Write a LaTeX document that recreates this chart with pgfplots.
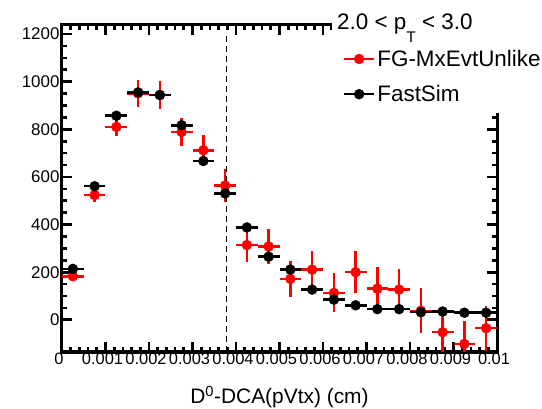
\documentclass[border=0pt]{standalone}
\usepackage{pgfplots}
\pgfplotsset{compat=1.18}
\usepackage{pgfplotstable}
\usepackage{fontspec}
\setmainfont{Liberation Sans}

% FG-MxEvtUnlike: bin centre, value, error up, error down (cut at the frame)
\pgfplotstableread{
x        y     ep   em
0.00025  183   20   20
0.00075  524   30   30
0.00125  810   39   39
0.00175  951   56   56
0.00225  944   60   60
0.00275  789   60   60
0.00325  712   65   65
0.00375  564   68   68
0.00425  314   73   73
0.00475  308   72   72
0.00525  172   74   74
0.00575  211   76   76
0.00625  113   82   82
0.00675  200   88   88
0.00725  131   91   91
0.00775  127   87   87
0.00825  38    94   94
0.00875  -52   95   83
0.00925  -101  95   34
0.00975  -35   95   95
}\fgdata

% FastSim
\pgfplotstableread{
x        y
0.00025  214
0.00075  561
0.00125  857
0.00175  955
0.00225  944
0.00275  817
0.00325  667
0.00375  531
0.00425  388
0.00475  265
0.00525  211
0.00575  127
0.00625  85
0.00675  61
0.00725  45
0.00775  45
0.00825  32
0.00875  35
0.00925  30
0.00975  30
}\fastsim

\begin{document}
\begin{tikzpicture}
\begin{axis}[
    scale only axis,
    width=435bp, height=327bp,
    xmin=0, xmax=0.01,
    ymin=-135, ymax=1238,
    clip=false,
    axis line style={line width=3bp},
    every tick/.style={black, line width=2.7bp},
    tick align=inside,
    major tick length=10bp, minor tick length=5bp,
    xtick={0,0.001,0.002,0.003,0.004,0.005,0.006,0.007,0.008,0.009,0.01},
    xticklabels={0,0.001,0.002,0.003,0.004,0.005,0.006,0.007,0.008,0.009,0.01},
    ytick={0,200,400,600,800,1000,1200},
    minor x tick num=4, minor y tick num=3,
    scaled x ticks=false,
    /pgf/number format/1000 sep={},
    /pgf/number format/assume math mode=true,
    tick label style={font=\fontsize{17}{17}\selectfont},
    xticklabel style={yshift=2bp, xshift=-3bp, font=\fontsize{16.5}{16.5}\selectfont},
    yticklabel style={xshift=1bp},
    xlabel={D\textsuperscript{0}-DCA(pVtx) (cm)},
    xlabel style={font=\fontsize{21}{21}\selectfont, yshift=-14bp},
    legend cell align=left,
    legend style={draw=none, fill=none, font=\fontsize{22.5}{22.5}\selectfont,
        at={(rel axis cs:0.6384,0.936)}, anchor=north west,
        row sep=13.5bp},
]
\addplot[red, only marks, mark=*, mark size=5bp, mark options={line width=0.4bp},
    legend image code/.code={
      \draw[red, sharp plot, line width=2.5bp, mark=*, mark size=5bp, mark repeat=2, mark phase=2]
      plot coordinates {(0bp,0bp) (15bp,0bp) (30bp,0bp)};},
    error bars/.cd, x dir=both, x fixed=0.00025, y dir=both, y explicit,
    error mark=none, error bar style={line width=2.5bp, red}]
    table[x=x, y=y, y error plus=ep, y error minus=em] {\fgdata};
\addlegendentry{FG-MxEvtUnlike}
\addplot[black, only marks, mark=*, mark size=5bp, mark options={line width=0.4bp},
    legend image code/.code={
      \draw[black, sharp plot, line width=2.5bp, mark=*, mark size=5bp, mark repeat=2, mark phase=2]
      plot coordinates {(0bp,0bp) (15bp,0bp) (30bp,0bp)};},
    error bars/.cd, x dir=both, x fixed=0.00025,
    error mark=none, error bar style={line width=2.5bp, black}]
    table[x=x, y=y] {\fastsim};
\addlegendentry{FastSim}
\addplot[black, thin, dash pattern=on 6bp off 4bp, forget plot]
    coordinates {(0.00377,-135) (0.00377,1190)};
\fill[white] (rel axis cs:0.6207,0.7309) rectangle (rel axis cs:1.11,1.08);
\node[anchor=base west, inner sep=0pt, font=\fontsize{22.5}{22.5}\selectfont]
    at (rel axis cs:0.6322,0.9869)
    {2.0 < p\raisebox{-13bp}{\fontsize{15.5}{15.5}\selectfont T} < 3.0};
\end{axis}
\pgfresetboundingbox
\path[use as bounding box] (-62bp,-57bp) rectangle (480bp,352bp);
\end{tikzpicture}
\end{document}
